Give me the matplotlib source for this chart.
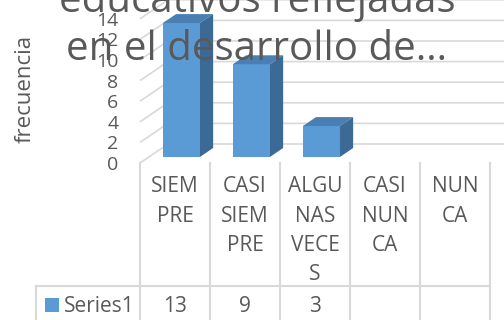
import matplotlib
matplotlib.use("Agg")
import matplotlib.pyplot as plt
from matplotlib.patches import Polygon, Rectangle
from matplotlib.transforms import blended_transform_factory

# ---- data -------------------------------------------------------------
categories = ["SIEMPRE", "CASI SIEMPRE", "ALGUNAS VECES", "CASI NUNCA", "NUNCA"]
category_labels = ["SIEM\nPRE", "CASI\nSIEM\nPRE", "ALGU\nNAS\nVECE\nS",
                   "CASI\nNUN\nCA", "NUN\nCA"]
series_name = "Series1"
values = [13, 9, 3, None, None]
y_ticks = [0, 2, 4, 6, 8, 10, 12, 14]
y_label = "frecuencia"
title_lines = ["educativos reflejadas", "en el desarrollo de…"]

# ---- styling ----------------------------------------------------------
W, H = 504, 320
FONT = "Open Sans"
TEXT = "#595959"
GRID = "#D9D9D9"
FRONT = "#5B9BD5"
TOP = "#4A7FB4"
SIDE = "#3C6A96"

plt.rcParams["font.family"] = [FONT, "DejaVu Sans"]

fig = plt.figure(figsize=(W / 100, H / 100), dpi=100)
fig.patch.set_facecolor("white")

# plot area: x in category units, y in value units (front plane)
px_per_cat = 70.0
px_per_unit = 10.3
left_px, floor_px = 140.0, 163.0
ax = fig.add_axes([left_px / W, 1 - floor_px / H, (W - left_px) / W, floor_px / H])
ax.set_xlim(-0.5, -0.5 + (W - left_px) / px_per_cat)
ax.set_ylim(0, floor_px / px_per_unit)
ax.patch.set_alpha(0)
for s in ax.spines.values():
    s.set_visible(False)
ax.set_xticks([])
ax.set_yticks(y_ticks)
ax.set_yticklabels([str(t) for t in y_ticks])
ax.tick_params(axis="y", length=0, pad=15.5, labelsize=14, labelcolor=TEXT)

# oblique depth of the walls (data units)
DX, DY = 0.40, 1.845
x_end = ax.get_xlim()[1]

# side wall + back wall gridlines
for v in y_ticks:
    ax.plot([-0.5, -0.5 + DX, x_end], [v, v + DY, v + DY],
            color=GRID, lw=1.2, zorder=1, solid_capstyle="butt", clip_on=False)

# 3-D columns
z_front, z_back = 0.32, 0.79
bar_w = 0.53
shift = -0.036
ddx, ddy = (z_back - z_front) * DX, (z_back - z_front) * DY
for i, v in enumerate(values):
    if v is None:
        continue
    xc = i + shift + z_front * DX
    y0 = z_front * DY
    ax.bar(xc, v, width=bar_w, bottom=y0, color=FRONT, zorder=3, linewidth=0)
    x0, x1 = xc - bar_w / 2, xc + bar_w / 2
    top = Polygon([(x0, y0 + v), (x1, y0 + v), (x1 + ddx, y0 + v + ddy),
                   (x0 + ddx, y0 + v + ddy)], closed=True, facecolor=TOP,
                  edgecolor="none", zorder=3)
    side = Polygon([(x1, y0), (x1 + ddx, y0 + ddy), (x1 + ddx, y0 + v + ddy),
                    (x1, y0 + v)], closed=True, facecolor=SIDE,
                   edgecolor="none", zorder=3)
    ax.add_patch(top)
    ax.add_patch(side)

# ---- data table below the plot ---------------------------------------
def fy(ypx):
    return 1 - ypx / H

def fx(xpx):
    return xpx / W

bt = blended_transform_factory(ax.transData, fig.transFigure)
n = len(categories)
for k in range(n + 1):
    fig.add_artist(plt.Line2D([k - 0.5, k - 0.5], [fy(floor_px), fy(H)],
                              transform=bt, color=GRID, lw=1.5))
row_px = 286
fig.add_artist(plt.Line2D([fx(36), fx(left_px + n * px_per_cat)],
                          [fy(row_px), fy(row_px)], transform=fig.transFigure,
                          color=GRID, lw=1.5))
fig.add_artist(plt.Line2D([fx(36), fx(36)], [fy(row_px), fy(H)],
                          transform=fig.transFigure, color=GRID, lw=1.5))

line_gap = 29.3
for i, lab in enumerate(category_labels):
    for j, part in enumerate(lab.split("\n")):
        t = fig.text(0, fy(192.5 + j * line_gap), part, transform=bt,
                     fontsize=15, color=TEXT, ha="center", va="baseline")
        t.set_x(i)

for i, v in enumerate(values):
    if v is None:
        continue
    t = fig.text(0, fy(312), str(v), transform=bt, fontsize=15, color=TEXT,
                 ha="center", va="baseline")
    t.set_x(i)

fig.add_artist(Rectangle((fx(45), fy(312)), 14 / W, 14 / H,
                         transform=fig.transFigure, facecolor=FRONT,
                         edgecolor="none"))
fig.text(fx(64), fy(312), series_name, fontsize=15, color=TEXT,
         ha="left", va="baseline")

# ---- axis title and chart title --------------------------------------
fig.text(fx(25), fy(89), y_label, rotation=90, fontsize=16, color=TEXT,
         ha="center", va="center")

title_baselines = [12, 60]
for line, yb in zip(title_lines, title_baselines):
    fig.text(fx(257), fy(yb), line, fontsize=29, color=TEXT,
             ha="center", va="baseline", zorder=10)

fig.savefig("out.png", dpi=100, facecolor="white")
